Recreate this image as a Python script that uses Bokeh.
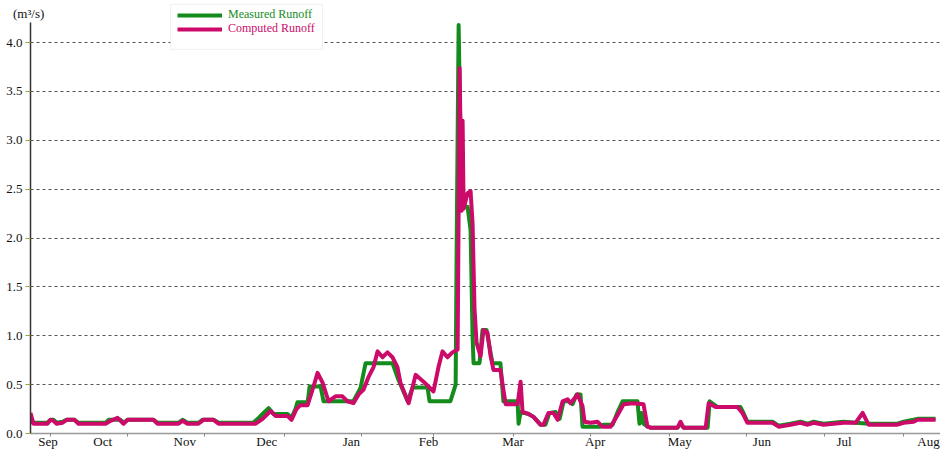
from bokeh.plotting import figure
from bokeh.models import (FixedTicker, Range1d, Legend, LegendItem, BoxAnnotation,
                          Div, PrintfTickFormatter)
from bokeh.embed import file_html
from bokeh.resources import INLINE

# ---- data (x = days since start of record, y = runoff m3/s) ----
measured_day = [0, 1.2, 6.8, 8.0, 9.2, 10.5, 12.9, 14.5, 17.7, 19.3, 30.2, 31.4, 36.2, 37.4, 39.0,
                49.4, 51.1, 59.5, 61.1, 63.1, 67.5, 69.1, 73.6, 75.6, 89.6, 91.7, 93.3, 95.7, 97.7,
                103.3, 104.9, 106.5, 107.3, 111.4, 112.2, 116.6, 117.8, 129.8, 132.7, 134.7, 145.5,
                147.9, 151.6, 153.6, 159.6, 160.4, 168.8, 170.9, 171.3, 171.7, 172.1, 173.3, 175.7,
                176.9, 177.7, 178.1, 180.5, 181.7, 183.3, 185.7, 188.9, 190.1, 195.8, 196.2, 197.0,
                200.2, 202.2, 205.0, 207.0, 208.6, 211.1, 212.7, 214.3, 216.3, 217.9, 219.5, 221.1,
                221.9, 229.1, 230.3, 234.0, 236.0, 238.0, 244.0, 244.8, 245.6, 246.4, 248.0, 249.2,
                260.1, 261.3, 262.5, 272.2, 273.0, 276.2, 285.4, 286.6, 288.2, 298.3, 300.7, 305.5,
                309.5, 312.4, 314.8, 318.8, 326.8, 336.9, 348.5, 351.0, 355.0, 356.6, 363.8]
measured_q = [0.12, 0.11, 0.11, 0.14, 0.14, 0.11, 0.12, 0.14, 0.14, 0.11, 0.11, 0.14, 0.14, 0.11, 0.14,
              0.14, 0.11, 0.11, 0.14, 0.11, 0.11, 0.14, 0.14, 0.11, 0.11, 0.16, 0.20, 0.26, 0.20,
              0.20, 0.16, 0.25, 0.32, 0.32, 0.48, 0.48, 0.33, 0.33, 0.47, 0.72, 0.72,
              0.55, 0.33, 0.47, 0.47, 0.33, 0.33, 0.50, 1.90, 3.05, 4.18, 2.32, 2.32,
              2.08, 1.00, 0.72, 0.72, 1.06, 1.06, 0.72, 0.72, 0.33, 0.33, 0.10, 0.22,
              0.20, 0.17, 0.09, 0.09, 0.21, 0.22, 0.15, 0.33, 0.33, 0.30, 0.40, 0.40,
              0.07, 0.07, 0.09, 0.09, 0.22, 0.33, 0.33, 0.10, 0.21, 0.10, 0.07, 0.06,
              0.06, 0.10, 0.06, 0.06, 0.33, 0.27, 0.27, 0.21, 0.12, 0.12, 0.08, 0.10,
              0.12, 0.10, 0.12, 0.10, 0.12, 0.10, 0.10, 0.12, 0.14, 0.15, 0.15]

computed_day = [0, 1.2, 6.8, 8.0, 9.2, 10.5, 12.9, 14.5, 17.7, 19.3, 30.2, 32.2, 35.0, 37.4, 39.0,
                49.4, 51.1, 59.5, 61.1, 63.1, 67.5, 69.5, 73.6, 75.6, 90.5, 93.3, 96.5, 98.5, 103.3,
                104.9, 106.9, 108.5, 111.4, 113.4, 115.4, 117.4, 119.8, 122.6, 125.4, 127.4, 129.8,
                131.9, 133.9, 135.9, 137.9, 139.5, 141.5, 143.5, 145.5, 147.5, 148.7, 152.0, 154.8,
                158.0, 162.0, 164.0, 165.6, 167.6, 169.6, 171.7, 172.5, 173.3, 173.7, 174.1, 175.7,
                176.9, 177.7, 178.5, 179.3, 180.1, 180.9, 182.1, 183.7, 184.9, 186.1, 188.9, 191.0,
                195.8, 197.0, 197.8, 200.2, 202.2, 205.0, 206.2, 208.2, 210.2, 211.9, 213.9, 215.9,
                217.1, 219.9, 221.9, 222.7, 225.1, 227.9, 229.9, 233.2, 236.0, 238.4, 242.4, 246.4,
                248.0, 249.2, 260.1, 261.3, 262.5, 271.4, 272.6, 275.4, 284.2, 286.2, 288.2, 298.3,
                300.7, 305.5, 309.5, 312.4, 314.8, 318.8, 326.8, 331.7, 334.5, 336.9, 348.5, 351.0,
                355.0, 356.6, 363.8]
computed_q = [0.21, 0.10, 0.10, 0.14, 0.13, 0.10, 0.11, 0.14, 0.14, 0.10, 0.10, 0.13, 0.16, 0.10, 0.14,
              0.14, 0.10, 0.10, 0.13, 0.10, 0.10, 0.14, 0.14, 0.10, 0.10, 0.15, 0.23, 0.18, 0.18,
              0.14, 0.25, 0.29, 0.29, 0.45, 0.62, 0.52, 0.33, 0.38, 0.38, 0.33, 0.31,
              0.40, 0.45, 0.58, 0.68, 0.84, 0.78, 0.83, 0.78, 0.68, 0.52, 0.31, 0.60,
              0.53, 0.43, 0.68, 0.84, 0.78, 0.83, 0.86, 3.74, 2.28, 3.20, 2.30, 2.46,
              2.48, 2.15, 1.27, 0.93, 0.86, 0.79, 1.06, 1.03, 0.80, 0.65, 0.65, 0.30,
              0.30, 0.53, 0.22, 0.20, 0.17, 0.09, 0.09, 0.21, 0.21, 0.14, 0.33, 0.35,
              0.31, 0.40, 0.28, 0.12, 0.11, 0.12, 0.07, 0.07, 0.19, 0.30, 0.31, 0.30,
              0.07, 0.06, 0.06, 0.12, 0.06, 0.06, 0.31, 0.27, 0.27, 0.21, 0.11, 0.11,
              0.07, 0.09, 0.11, 0.09, 0.11, 0.09, 0.11, 0.11, 0.21, 0.09, 0.09, 0.11,
              0.12, 0.14, 0.14]

month_labels = ["Sep", "Oct", "Nov", "Dec", "Jan", "Feb", "Mar", "Apr", "May", "Jun", "Jul", "Aug"]
month_label_day = [7, 29, 62, 95, 129, 160, 194, 227, 261, 294, 327, 361]
month_tick_day = [8, 39, 70, 102, 133, 162, 194, 225, 257, 288, 319, 351]
y_ticks = [0.0, 0.5, 1.0, 1.5, 2.0, 2.5, 3.0, 3.5, 4.0]
unit_text = "(m³/s)"

GREEN = "#138c1c"
MAG = "#cc0a69"
FONT = "Liberation Serif"

p = figure(width=940, height=451, output_backend="svg", toolbar_location=None,
           x_range=Range1d(0, 365.8), y_range=Range1d(0, 4.43),
           min_border_left=30, min_border_right=0, min_border_top=0, min_border_bottom=0)
p.outline_line_color = None
p.xgrid.visible = False
p.ygrid.ticker = FixedTicker(ticks=y_ticks[1:])
p.ygrid.grid_line_color = "#555555"
p.ygrid.grid_line_dash = "3 3"
p.ygrid.grid_line_width = 1

g = p.line(measured_day, measured_q, line_color=GREEN, line_width=4, line_join="round")
m = p.line(computed_day, computed_q, line_color=MAG, line_width=4, line_join="round")

# x axis
xa = p.xaxis[0]
xa.ticker = FixedTicker(ticks=month_label_day, minor_ticks=month_tick_day)
xa.major_label_overrides = {d: lab for d, lab in zip(month_label_day, month_labels)}
xa.major_tick_line_color = None
xa.major_tick_out = 0
xa.minor_tick_out = 3
xa.minor_tick_in = 0
xa.minor_tick_line_color = "#888888"
xa.axis_line_color = "#999999"
xa.axis_line_width = 1.5
xa.major_label_text_font = FONT
xa.major_label_text_font_size = "13px"
xa.major_label_text_color = "#111111"
xa.major_label_standoff = -3

# y axis
ya = p.yaxis[0]
ya.ticker = FixedTicker(ticks=y_ticks)
ya.formatter = PrintfTickFormatter(format="%.1f")
ya.bounds = (0, 4.2)
ya.axis_line_color = "#333333"
ya.axis_line_width = 1.5
ya.major_tick_out = 5
ya.major_tick_in = 0
ya.major_tick_line_color = "#a0a040"
ya.minor_tick_line_color = None
ya.major_label_text_font = FONT
ya.major_label_text_font_size = "13px"
ya.major_label_text_color = "#111111"
ya.major_label_standoff = 3

# legend box
p.add_layout(BoxAnnotation(left=56.3, right=117.4, top=4.39, bottom=3.93,
                           fill_color="white", fill_alpha=1.0,
                           line_color="#cccccc", line_width=1))

common = dict(border_line_color=None, background_fill_alpha=0, glyph_width=45, glyph_height=14,
              label_text_font=FONT, label_text_font_size="12px", padding=0, margin=0,
              spacing=0, label_standoff=6, label_height=14)
leg1 = Legend(items=[LegendItem(label="Measured Runoff", renderers=[g])],
              location=(147, 411), label_text_color=GREEN, **common)
leg2 = Legend(items=[LegendItem(label="Computed Runoff", renderers=[m])],
              location=(147, 397), label_text_color=MAG, **common)
p.add_layout(leg1)
p.add_layout(leg2)

# unit label above the y axis (outside the plot frame)
unit = Div(text=unit_text, width=40, height=16,
           styles={"position": "absolute", "left": "13px", "top": "6px",
                   "font-family": FONT, "font-size": "13px", "color": "#111111",
                   "z-index": "10", "line-height": "16px", "margin": "0"})

open("out.html", "w").write(file_html([p, unit], INLINE))
